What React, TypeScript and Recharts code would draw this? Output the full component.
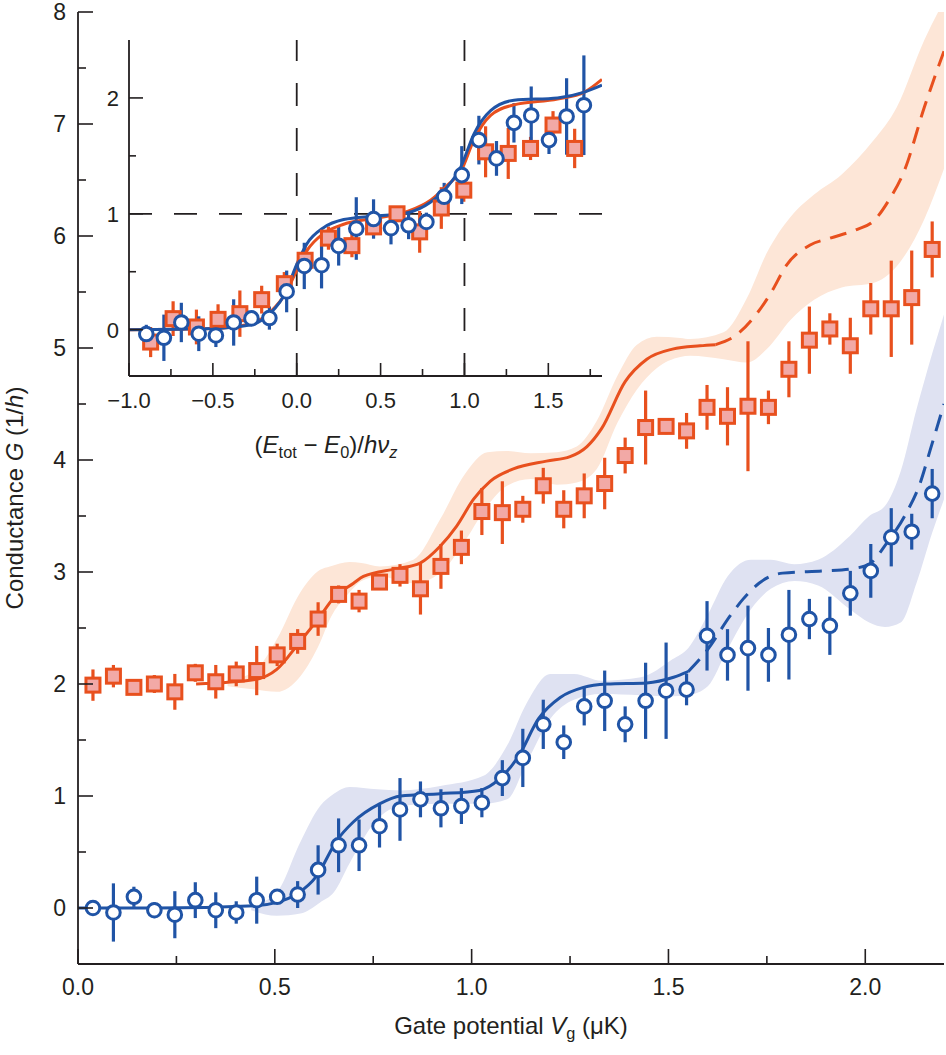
import React from "react";
import { ComposedChart, XAxis, YAxis, Line, Area, Scatter, ErrorBar, ReferenceLine } from "recharts";

const AX = "#231f20";
const RED = "#e8501e";
const PINK = "#f2a9a6";
const PEACH = "#fde6d7";
const BLUE = "#2054a6";
const LAVENDER = "#dfe2f2";
const FONT = "'Liberation Sans', Arial, Helvetica, sans-serif";

// main panel: gate potential of every measured point (μK)
const gate = [
  0.038, 0.09, 0.142, 0.194, 0.246, 0.298, 0.35, 0.402, 0.454, 0.506, 0.558, 0.61, 0.662, 0.714,
  0.766, 0.818, 0.87, 0.922, 0.974, 1.026, 1.078, 1.13, 1.182, 1.234, 1.286, 1.338, 1.39, 1.442,
  1.494, 1.546, 1.598, 1.65, 1.702, 1.754, 1.806, 1.858, 1.91, 1.962, 2.014, 2.066, 2.118, 2.17,
];
const redG = [
  1.99, 2.07, 1.97, 2.0, 1.93, 2.1, 2.02, 2.09, 2.12, 2.26, 2.38, 2.58, 2.8, 2.74, 2.91, 2.97, 2.85,
  3.05, 3.22, 3.54, 3.53, 3.56, 3.77, 3.56, 3.68, 3.79, 4.04, 4.29, 4.3, 4.26, 4.47, 4.39, 4.48, 4.47,
  4.81, 5.07, 5.17, 5.02, 5.35, 5.35, 5.45, 5.88,
];
const redErr = [
  0.14, 0.1, 0.06, 0.08, 0.16, 0.08, 0.15, 0.11, 0.22, 0.1, 0.11, 0.15, 0.08, 0.1, 0.06, 0.1, 0.23,
  0.2, 0.15, 0.21, 0.28, 0.12, 0.16, 0.17, 0.2, 0.23, 0.16, 0.33, 0.07, 0.16, 0.2, 0.26, 0.58, 0.15,
  0.25, 0.3, 0.14, 0.25, 0.23, 0.43, 0.42, 0.25,
];
const blueG = [
  0.0, -0.04, 0.1, -0.02, -0.06, 0.07, -0.02, -0.04, 0.07, 0.1, 0.12, 0.34, 0.56, 0.56, 0.73, 0.88,
  0.97, 0.89, 0.91, 0.94, 1.16, 1.34, 1.64, 1.48, 1.8, 1.85, 1.64, 1.85, 1.94, 1.95, 2.43, 2.26, 2.32,
  2.26, 2.44, 2.58, 2.52, 2.81, 3.01, 3.31, 3.36, 3.7,
];
const blueErr = [
  0.06, 0.26, 0.09, 0.07, 0.21, 0.16, 0.16, 0.1, 0.21, 0.06, 0.12, 0.22, 0.24, 0.23, 0.19, 0.28, 0.16,
  0.17, 0.16, 0.13, 0.16, 0.26, 0.22, 0.15, 0.17, 0.27, 0.16, 0.34, 0.43, 0.14, 0.31, 0.23, 0.38, 0.24,
  0.4, 0.18, 0.26, 0.2, 0.24, 0.26, 0.16, 0.22,
];

// fitted curves (solid) and their extrapolation (dashed)
const redFitX = [0.3, 0.45, 0.505, 0.56, 0.612, 0.65, 0.7, 0.725, 0.81, 0.869, 0.92, 0.962, 1.005, 1.047, 1.106, 1.19, 1.25, 1.293, 1.33, 1.39, 1.445, 1.51, 1.58, 1.62];
const redFitY = [2.0, 2.04, 2.13, 2.36, 2.59, 2.77, 2.9, 2.96, 3.03, 3.08, 3.23, 3.41, 3.65, 3.81, 3.92, 3.99, 4.03, 4.12, 4.28, 4.7, 4.9, 4.99, 5.02, 5.03];
const redDashX = [1.62, 1.67, 1.725, 1.76, 1.8, 1.86, 1.91, 1.98, 2.02, 2.06, 2.1, 2.15, 2.2];
const redDashY = [5.03, 5.11, 5.31, 5.49, 5.74, 5.92, 5.98, 6.06, 6.13, 6.32, 6.59, 7.15, 7.65];
const blueFitX = [0, 0.2, 0.45, 0.505, 0.556, 0.607, 0.657, 0.7, 0.766, 0.82, 0.92, 1.02, 1.07, 1.12, 1.17, 1.225, 1.284, 1.343, 1.445, 1.513, 1.55];
const blueFitY = [0, 0, 0.02, 0.05, 0.125, 0.29, 0.6, 0.77, 0.93, 1.0, 1.02, 1.05, 1.15, 1.36, 1.69, 1.88, 1.97, 2.0, 2.01, 2.06, 2.11];
const blueDashX = [1.55, 1.6, 1.657, 1.69, 1.73, 1.79, 1.895, 1.967, 2.01, 2.055, 2.1, 2.14, 2.165, 2.2];
const blueDashY = [2.11, 2.31, 2.61, 2.76, 2.9, 2.99, 3.01, 3.03, 3.07, 3.26, 3.5, 3.8, 4.09, 4.5];

// uncertainty bands
const redBandX = [0.38, 0.45, 0.505, 0.565, 0.615, 0.64, 0.69, 0.72, 0.767, 0.852, 0.92, 0.98, 1.04, 1.09, 1.15, 1.216, 1.267, 1.318, 1.37, 1.42, 1.47, 1.53, 1.555, 1.64, 1.7, 1.75, 1.81, 1.87, 1.94, 2.02, 2.08, 2.15, 2.2];
const redBandHi = [2.03, 2.12, 2.4, 2.82, 3.02, 3.05, 3.09, 3.08, 3.05, 3.11, 3.47, 3.86, 4.07, 4.08, 4.06, 4.07, 4.12, 4.35, 4.75, 5.03, 5.1, 5.09, 5.08, 5.14, 5.45, 5.85, 6.17, 6.37, 6.55, 6.85, 7.15, 7.75, 8.1];
const redBandLo = [1.98, 1.95, 1.93, 2.07, 2.37, 2.58, 2.82, 2.92, 2.96, 2.9, 2.99, 3.26, 3.59, 3.77, 3.83, 3.78, 3.8, 3.92, 4.33, 4.63, 4.82, 4.92, 4.93, 4.9, 4.87, 4.99, 5.25, 5.43, 5.54, 5.58, 5.73, 6.15, 6.6];
const blueBandX = [0.44, 0.505, 0.565, 0.615, 0.65, 0.69, 0.76, 0.82, 0.92, 1.03, 1.09, 1.14, 1.2, 1.26, 1.33, 1.43, 1.51, 1.55, 1.6, 1.65, 1.71, 1.76, 1.82, 1.88, 1.96, 2.01, 2.05, 2.09, 2.13, 2.17, 2.2];
const blueBandHi = [0.02, 0.14, 0.59, 0.91, 1.02, 1.08, 1.06, 1.05, 1.09, 1.18, 1.45, 1.83, 2.09, 2.09, 2.03, 2.06, 2.22, 2.32, 2.62, 2.96, 3.11, 3.11, 3.07, 3.11, 3.32, 3.5, 3.59, 3.9, 4.45, 4.95, 5.3];
const blueBandLo = [-0.02, -0.07, -0.05, 0.05, 0.14, 0.4, 0.79, 0.91, 0.93, 0.93, 0.97, 1.3, 1.69, 1.86, 1.91, 1.9, 1.89, 1.9, 1.98, 2.31, 2.67, 2.85, 2.92, 2.88, 2.67, 2.55, 2.51, 2.55, 2.9, 3.35, 3.65];

// inset: conductance against scaled energy
const insetRedX = [-0.871, -0.737, -0.598, -0.469, -0.339, -0.209, -0.074, 0.05, 0.189, 0.329, 0.458, 0.598, 0.733, 0.862, 0.996, 1.126, 1.261, 1.394, 1.528, 1.657];
const insetRedG = [-0.107, 0.095, 0.023, 0.089, 0.138, 0.259, 0.397, 0.599, 0.79, 0.725, 0.887, 1.0, 0.844, 1.05, 1.204, 1.535, 1.521, 1.564, 1.766, 1.564];
const insetRedErr = [0.13, 0.15, 0.15, 0.13, 0.2, 0.12, 0.1, 0.12, 0.1, 0.1, 0.08, 0.06, 0.18, 0.18, 0.1, 0.22, 0.22, 0.1, 0.12, 0.17];
const insetBlueX = [-0.897, -0.792, -0.688, -0.584, -0.482, -0.376, -0.27, -0.163, -0.06, 0.045, 0.148, 0.25, 0.355, 0.458, 0.562, 0.667, 0.773, 0.879, 0.984, 1.086, 1.191, 1.295, 1.398, 1.504, 1.609, 1.712];
const insetBlueG = [-0.038, -0.07, 0.062, -0.035, -0.05, 0.062, 0.097, 0.1, 0.33, 0.55, 0.556, 0.723, 0.873, 0.955, 0.876, 0.901, 0.93, 1.147, 1.334, 1.636, 1.478, 1.785, 1.849, 1.636, 1.84, 1.937];
const insetBlueErr = [0.08, 0.2, 0.17, 0.15, 0.1, 0.2, 0.06, 0.1, 0.18, 0.2, 0.2, 0.17, 0.27, 0.17, 0.14, 0.12, 0.08, 0.12, 0.25, 0.21, 0.15, 0.17, 0.25, 0.12, 0.33, 0.43];
const insetRedFitX = [-1.0, -0.5, -0.28, -0.16, -0.06, -0.007, 0.06, 0.16, 0.28, 0.46, 0.66, 0.8, 0.9, 0.98, 1.057, 1.156, 1.295, 1.555, 1.715, 1.82];
const insetRedFitY = [0, 0.01, 0.05, 0.15, 0.33, 0.49, 0.68, 0.83, 0.91, 0.96, 1.02, 1.12, 1.25, 1.37, 1.64, 1.85, 1.94, 1.99, 2.05, 2.16];
const insetBlueFitX = [-1.0, -0.5, -0.28, -0.16, -0.06, -0.007, 0.06, 0.16, 0.28, 0.46, 0.66, 0.797, 0.897, 0.977, 1.057, 1.156, 1.295, 1.555, 1.715, 1.82];
const insetBlueFitY = [0, 0.01, 0.04, 0.138, 0.34, 0.54, 0.74, 0.88, 0.95, 0.98, 1.01, 1.1, 1.23, 1.4, 1.69, 1.89, 1.98, 2.0, 2.05, 2.11];

// ticks
const gateTicks = [0, 0.25, 0.5, 0.75, 1, 1.25, 1.5, 1.75, 2];
const condTicks = [0, 0.5, 1, 1.5, 2, 2.5, 3, 3.5, 4, 4.5, 5, 5.5, 6, 6.5, 7, 7.5, 8];
const energyTicks = [-1, -0.75, -0.5, -0.25, 0, 0.25, 0.5, 0.75, 1, 1.25, 1.5, 1.75];
const insetCondTicks = [0, 0.5, 1, 1.5, 2];
const insetGuidesX = [0, 1];
const insetGuidesY = [1];

const curve = (xs: number[], ys: number[]) => xs.map((x, i) => ({ x, g: ys[i] }));
const points = (xs: number[], ys: number[], es: number[]) => xs.map((x, i) => ({ x, g: ys[i], err: es[i] }));
const band = (xs: number[], lo: number[], hi: number[]) => xs.map((x, i) => ({ x, band: [lo[i], hi[i]] }));

const fmtDecimal = (v: number) => v.toFixed(1).replace("-", "\u2212");
const fmtInt = (v: number) => String(Math.round(v));

type Side = "bottom" | "top" | "left" | "right";

// inward ticks, long at multiples of `every`, label only where fmt is given
function axisTick(side: Side, every: number, long: number, short: number, fmt?: (v: number) => string, gap = 0, fontSize = 23) {
  return (props: any) => {
    const { x, y, payload } = props;
    const v = Number(payload.value);
    const q = v / every;
    const major = Math.abs(q - Math.round(q)) < 1e-6;
    const len = major ? long : short;
    const dir = side === "bottom" || side === "right" ? -1 : 1;
    const horiz = side === "bottom" || side === "top";
    const line = horiz ? (
      <line x1={x} x2={x} y1={y} y2={y + dir * len} stroke={AX} strokeWidth={1.6} />
    ) : (
      <line x1={x} x2={x + dir * len} y1={y} y2={y} stroke={AX} strokeWidth={1.6} />
    );
    let label = null;
    if (major && fmt) {
      label =
        side === "bottom" ? (
          <text x={x} y={y + gap} textAnchor="middle" fontSize={fontSize} fontFamily={FONT} fill={AX}>
            {fmt(v)}
          </text>
        ) : (
          <text x={x - gap} y={y + fontSize * 0.36} textAnchor="end" fontSize={fontSize} fontFamily={FONT} fill={AX}>
            {fmt(v)}
          </text>
        );
    }
    return (
      <g>
        {line}
        {label}
      </g>
    );
  };
}

const squareShape = (p: any) => (
  <rect x={p.cx - 7} y={p.cy - 7} width={14} height={14} fill={PINK} stroke={RED} strokeWidth={3} />
);
const circleShape = (p: any) => <circle cx={p.cx} cy={p.cy} r={6.8} fill="#fff" stroke={BLUE} strokeWidth={3} />;
const noShape = () => <g />;

const axisLine = { stroke: AX, strokeWidth: 1.8 };

// error bars go in their own series so the markers sit on top of them
function withBars(rows: { x: number; g: number; err: number }[], color: string, shape: (p: any) => React.ReactElement, key: string) {
  return [
    <Scatter key={key + "-bars"} data={rows} dataKey="g" shape={noShape} isAnimationActive={false}>
      <ErrorBar dataKey="err" direction="y" width={0} strokeWidth={3.2} stroke={color} />
    </Scatter>,
    <Scatter key={key + "-marks"} data={rows} dataKey="g" shape={shape} isAnimationActive={false} />,
  ];
}

function MainPanel() {
  return (
    <ComposedChart width={946} height={1055} margin={{ top: 12, right: 2, bottom: 0, left: 0 }}>
      <XAxis type="number" dataKey="x" domain={[0, 2.2]} allowDataOverflow ticks={gateTicks} interval={0} height={91}
        tickSize={0} tickMargin={0} tickLine={false} axisLine={axisLine} tick={axisTick("bottom", 0.5, 15, 8, fmtDecimal, 31)} />
      <XAxis xAxisId="top" orientation="top" type="number" dataKey="x" domain={[0, 2.2]} allowDataOverflow ticks={gateTicks}
        interval={0} height={0} tickSize={0} tickMargin={0} tickLine={false} axisLine={axisLine} tick={axisTick("top", 0.5, 15, 8)} />
      <YAxis type="number" domain={[-0.5, 8]} allowDataOverflow ticks={condTicks} interval={0} width={78}
        tickSize={0} tickMargin={0} tickLine={false} axisLine={axisLine} tick={axisTick("left", 1, 15, 8, fmtInt, 12)} />
      <YAxis yAxisId="right" orientation="right" type="number" domain={[-0.5, 8]} allowDataOverflow ticks={condTicks}
        interval={0} width={0} tickSize={0} tickMargin={0} tickLine={false} axisLine={axisLine} tick={axisTick("right", 1, 15, 8)} />

      <Area data={band(redBandX, redBandLo, redBandHi)} dataKey="band" type="monotone" stroke="none" fill={PEACH} fillOpacity={1} isAnimationActive={false} activeDot={false} />
      <Area data={band(blueBandX, blueBandLo, blueBandHi)} dataKey="band" type="monotone" stroke="none" fill={LAVENDER} fillOpacity={1} isAnimationActive={false} activeDot={false} />

      {withBars(points(gate, redG, redErr), RED, squareShape, "red")}
      {withBars(points(gate, blueG, blueErr), BLUE, circleShape, "blue")}

      <Line data={curve(redFitX, redFitY)} dataKey="g" type="monotone" stroke={RED} strokeWidth={3} dot={false} activeDot={false} isAnimationActive={false} />
      <Line data={curve(redDashX, redDashY)} dataKey="g" type="monotone" stroke={RED} strokeWidth={3} strokeDasharray="17 10" dot={false} activeDot={false} isAnimationActive={false} />
      <Line data={curve(blueFitX, blueFitY)} dataKey="g" type="monotone" stroke={BLUE} strokeWidth={3} dot={false} activeDot={false} isAnimationActive={false} />
      <Line data={curve(blueDashX, blueDashY)} dataKey="g" type="monotone" stroke={BLUE} strokeWidth={3} strokeDasharray="17 10" dot={false} activeDot={false} isAnimationActive={false} />
    </ComposedChart>
  );
}

function InsetPanel() {
  return (
    <ComposedChart width={620} height={470} margin={{ top: 40, right: 18, bottom: 0, left: 0 }}>
      <XAxis type="number" dataKey="x" domain={[-1, 1.82]} allowDataOverflow ticks={energyTicks} interval={0} height={94}
        tickSize={0} tickMargin={0} tickLine={false} axisLine={axisLine} tick={axisTick("bottom", 0.5, 13, 7, fmtDecimal, 32, 22)} />
      <XAxis xAxisId="top" orientation="top" type="number" dataKey="x" domain={[-1, 1.82]} allowDataOverflow ticks={energyTicks}
        interval={0} height={0} tickSize={0} tickMargin={0} tickLine={false} axisLine={axisLine} tick={axisTick("top", 0.5, 13, 7)} />
      <YAxis type="number" domain={[-0.4, 2.5]} allowDataOverflow ticks={insetCondTicks} interval={0} width={129}
        tickSize={0} tickMargin={0} tickLine={false} axisLine={axisLine} tick={axisTick("left", 1, 14, 7, fmtInt, 10, 22)} />
      <YAxis yAxisId="right" orientation="right" type="number" domain={[-0.4, 2.5]} allowDataOverflow ticks={insetCondTicks}
        interval={0} width={0} tickSize={0} tickMargin={0} tickLine={false} axisLine={axisLine} tick={axisTick("right", 1, 14, 7)} />

      {insetGuidesX.map((v) => (
        <ReferenceLine key={"gx" + v} x={v} stroke={AX} strokeWidth={1.8} strokeDasharray="23 22" />
      ))}
      {insetGuidesY.map((v) => (
        <ReferenceLine key={"gy" + v} y={v} stroke={AX} strokeWidth={1.8} strokeDasharray="23 22" />
      ))}

      {withBars(points(insetRedX, insetRedG, insetRedErr), RED, squareShape, "ired")}
      {withBars(points(insetBlueX, insetBlueG, insetBlueErr), BLUE, circleShape, "iblue")}

      <Line data={curve(insetRedFitX, insetRedFitY)} dataKey="g" type="monotone" stroke={RED} strokeWidth={3} dot={false} activeDot={false} isAnimationActive={false} />
      <Line data={curve(insetBlueFitX, insetBlueFitY)} dataKey="g" type="monotone" stroke={BLUE} strokeWidth={3} dot={false} activeDot={false} isAnimationActive={false} />
    </ComposedChart>
  );
}

const sub: React.CSSProperties = { fontSize: "0.68em", position: "relative", top: "0.32em" };
const title: React.CSSProperties = {
  position: "absolute",
  whiteSpace: "nowrap",
  fontFamily: FONT,
  fontSize: 24,
  lineHeight: "28px",
  color: AX,
  transform: "translate(-50%, -50%)",
};

export default function App() {
  return (
    <div style={{ position: "absolute", left: 0, top: 0, width: 946, height: 1055, background: "#fff", overflow: "hidden" }}>
      <div style={{ position: "absolute", left: 0, top: 0 }}>
        <MainPanel />
      </div>
      <div style={{ position: "absolute", left: 0, top: 0 }}>
        <InsetPanel />
      </div>
      <div style={{ ...title, left: 511, top: 1027 }}>
        Gate potential <i>V</i>
        <span style={sub}>g</span> (μK)
      </div>
      <div style={{ ...title, left: 15, top: 498, transform: "translate(-50%, -50%) rotate(-90deg)" }}>
        Conductance <i>G</i> (1/<i>h</i>)
      </div>
      <div style={{ ...title, left: 326, top: 446 }}>
        (<i>E</i>
        <span style={sub}>tot</span> − <i>E</i>
        <span style={sub}>0</span>)/<i>hν</i>
        <span style={sub}>
          <i>z</i>
        </span>
      </div>
    </div>
  );
}
